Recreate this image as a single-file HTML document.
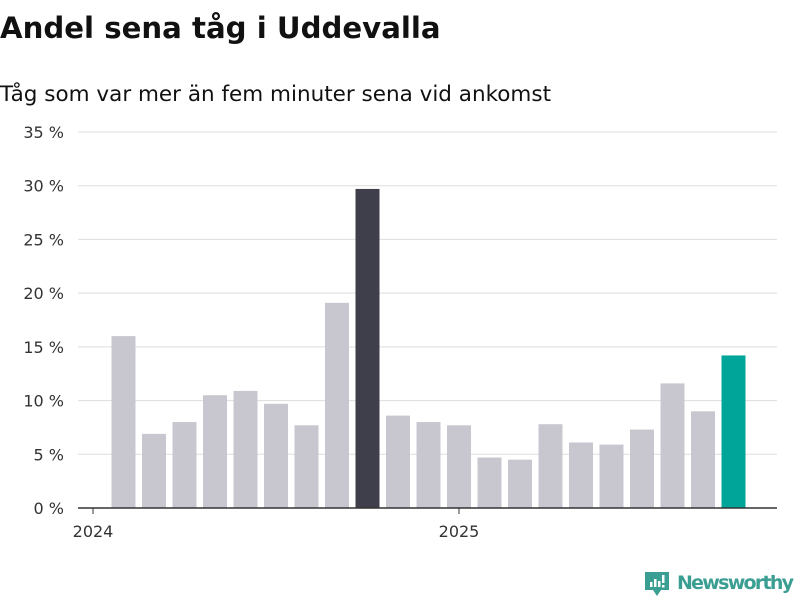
<!DOCTYPE html>
<html><head><meta charset="utf-8"><style>
body{margin:0;width:800px;height:600px;background:#fff;font-family:"DejaVu Sans","Liberation Sans",sans-serif;overflow:hidden}
</style></head><body>
<svg width="800" height="600" xmlns="http://www.w3.org/2000/svg">
<text x="0" y="38" font-size="29.2" font-weight="bold" fill="#111">Andel sena tåg i Uddevalla</text>
<text x="0" y="101" font-size="21.5" fill="#111">Tåg som var mer än fem minuter sena vid ankomst</text>
<g id="grid"></g><g id="bars"></g><g id="xaxis"></g>
<g>
<path d="M645 572h24v18h-8l-4 6l-4-6h-8z" fill="#3a9e92"/>
<rect x="650" y="582" width="2.5" height="5" fill="#fff"/><rect x="654" y="579" width="2.5" height="8" fill="#fff"/><rect x="658" y="581" width="2.5" height="6" fill="#fff"/><rect x="662" y="575" width="2.5" height="8" fill="#fff"/><rect x="662" y="585" width="2.5" height="2.5" fill="#fff"/>
<text x="677" y="589" font-size="19" font-weight="bold" fill="#3a9e92" textLength="117">Newsworthy</text>
</g>
</svg>
<script>
const values=[16.0,6.9,8.0,10.5,10.9,9.7,7.7,19.1,29.7,8.6,8.0,7.7,4.7,4.5,7.8,6.1,5.9,7.3,11.6,9.0,14.2];
const startIndex=1;
const yTicks=[0,5,10,15,20,25,30,35];
const yearLabels=["2024","2025"];
const yearIdx=[0,12];
const highlight={8:"#3f3e4b",20:"#00a59a"};
const NS="http://www.w3.org/2000/svg";
const y=v=>508-v*(376/35);
const x=i=>93+i*30.5;
function mk(t,a,p){const e=document.createElementNS(NS,t);for(const k in a)e.setAttribute(k,a[k]);p.appendChild(e);return e;}
const grid=document.getElementById('grid');
yTicks.forEach(t=>{
 if(t>0){const l=mk('line',{x1:78,x2:777,y1:y(t),y2:y(t),stroke:'#ddd','stroke-width':1},grid);
 
 }
 const tx=mk('text',{x:64,y:y(t)+6,'font-size':16,'text-anchor':'end',fill:'#333'},grid);tx.textContent=t+' %';
 
 
});
const bars=document.getElementById('bars');
values.forEach((v,i)=>{
 const c=x(i+startIndex);
 const r=mk('rect',{x:c-12,y:y(v),width:24,height:y(0)-y(v),fill:highlight[i]||'#c8c7cf'},bars);
 
 
});
const xa=document.getElementById('xaxis');
const ax=mk('line',{x1:78,x2:777,y1:508,y2:508,stroke:'#333','stroke-width':1.5},xa);


yearIdx.forEach((k,j)=>{
 mk('line',{x1:x(k),x2:x(k),y1:508,y2:514,stroke:'#333'},xa);
 const t=mk('text',{x:x(k),y:537,'font-size':16,'text-anchor':'middle',fill:'#333'},xa);t.textContent=yearLabels[j];
 
 
});
</script>
</body></html>
